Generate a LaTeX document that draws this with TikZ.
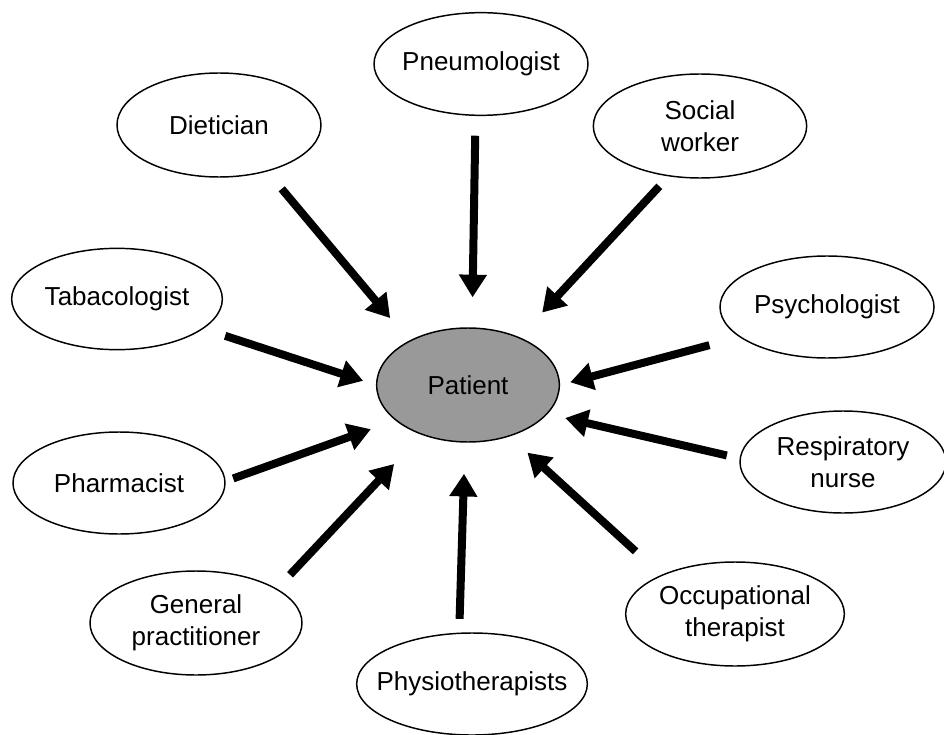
\documentclass[tikz,border=0pt]{standalone}
\usepackage{fontspec}
\setmainfont{Liberation Sans}
\usetikzlibrary{shapes.geometric}
\usetikzlibrary{arrows.meta}
\definecolor{patientgray}{RGB}{153,153,153}

\begin{document}
\begin{tikzpicture}[x=0.75pt,y=0.75pt,yscale=-1,
    role/.style={ellipse,draw,line width=1.1pt,inner sep=0pt,fill=white},
    roletext/.style={align=center,font=\fontsize{19.5}{24}\selectfont},
    towards/.style={line width=6pt,-{Triangle[length=17pt,width=20pt]}}]
    \useasboundingbox (0,0) rectangle (944,734);

    %Shape: Ellipse (centre)
    \node [role,fill=patientgray,minimum width=137pt,minimum height=85.5pt,label={[roletext]center:Patient}] (patient) at (468,385) {};

    %Shape: Ellipse (top row)
    \node [role,minimum width=153pt,minimum height=78pt,label={[roletext]center:Dietician}] (diet) at (219,125) {};
    \node [role,minimum width=160.5pt,minimum height=77pt,label={[roletext]center:Pneumologist}] (pneu) at (481,64) {};
    \node [role,minimum width=160pt,minimum height=78pt,label={[roletext]center:Social\\worker}] (social) at (700,126) {};

    %Shape: Ellipse (middle rows)
    \node [role,minimum width=158pt,minimum height=76pt,label={[roletext]center:Tabacologist}] (tabac) at (117,299) {};
    \node [role,minimum width=160.5pt,minimum height=76.5pt,label={[roletext]center:Psychologist}] (psych) at (827,307) {};
    \node [role,minimum width=159pt,minimum height=76.5pt,label={[roletext]center:Pharmacist}] (pharm) at (119,483) {};
    \node [role,minimum width=154.5pt,minimum height=76.5pt,label={[roletext]center:Respiratory\\nurse}] (resp) at (843,462) {};

    %Shape: Ellipse (bottom row)
    \node [role,minimum width=159pt,minimum height=78pt,label={[roletext]center:General\\practitioner}] (gp) at (196,623) {};
    \node [role,minimum width=173pt,minimum height=76.5pt,label={[roletext]center:Physiotherapists}] (physio) at (472,684) {};
    \node [role,minimum width=164pt,minimum height=78pt,label={[roletext]center:Occupational\\therapist}] (occ) at (735,614) {};

    %Straight Lines with arrows
    \draw [towards,shorten <=16.9pt,shorten >=22.1pt] (diet.-44.5) -- (patient.143.7);
    \draw [towards,shorten <=14.8pt,shorten >=22.5pt] (pneu.-96.4) -- (patient.86.7);
    \draw [towards,shorten <=10.1pt,shorten >=25.1pt] (social.-122.6) -- (patient.43.8);
    \draw [towards,shorten <=17.1pt,shorten >=10.1pt] (tabac.-19.7) -- (patient.180.5);
    \draw [towards,shorten <=23.3pt,shorten >=7.9pt] (psych.-161) -- (patient.0.6);
    \draw [towards,shorten <=6pt,shorten >=19.5pt] (pharm.1.5) -- (patient.-154.4);
    \draw [towards,shorten <=9.8pt,shorten >=13.5pt] (resp.178.5) -- (patient.-20.8);
    \draw [towards,shorten <=14.3pt,shorten >=30pt] (gp.23.4) -- (patient.-133.9);
    \draw [towards,shorten <=10.3pt,shorten >=23.3pt] (physio.104) -- (patient.-93.3);
    \draw [towards,shorten <=26.1pt,shorten >=18pt] (occ.152.1) -- (patient.-51.8);

\end{tikzpicture}
\end{document}
